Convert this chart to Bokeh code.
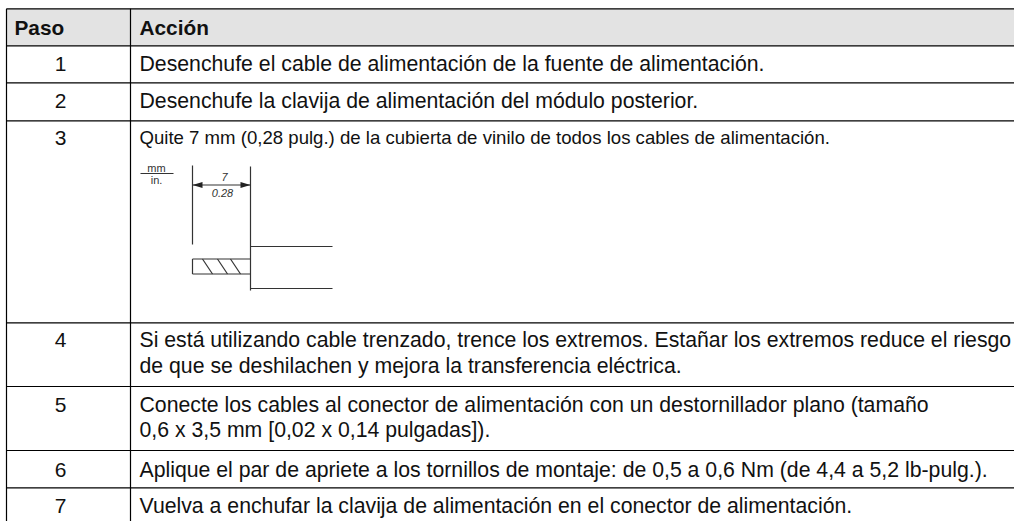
from bokeh.plotting import figure
from bokeh.models import Range1d, ColumnDataSource
from bokeh.core.properties import value
from bokeh.embed import file_html
from bokeh.resources import INLINE

HEADERS = ["Paso", "Acción"]
STEPS = ["1", "2", "3", "4", "5", "6", "7"]
ACTIONS = [
    ["Desenchufe el cable de alimentación de la fuente de alimentación."],
    ["Desenchufe la clavija de alimentación del módulo posterior."],
    ["Quite 7 mm (0,28 pulg.) de la cubierta de vinilo de todos los cables de alimentación."],
    ["Si está utilizando cable trenzado, trence los extremos. Estañar los extremos reduce el riesgo",
     "de que se deshilachen y mejora la transferencia eléctrica."],
    ["Conecte los cables al conector de alimentación con un destornillador plano (tamaño",
     "0,6 x 3,5 mm [0,02 x 0,14 pulgadas])."],
    ["Aplique el par de apriete a los tornillos de montaje: de 0,5 a 0,6 Nm (de 4,4 a 5,2 lb-pulg.)."],
    ["Vuelva a enchufar la clavija de alimentación en el conector de alimentación."],
]
ROW_LINES = [8.3, 45.3, 82.3, 120.3, 322.3, 386, 450, 487.3]
ROW_BOTTOM = 521
TEXT_CENTRES = [63, 100, 137, 339.5, 404.5, 469, 505.5]
LINE_STEPS = [0, 0, 0, 26, 25.3, 0, 0]
X_LEFT, X_SPLIT, X_RIGHT = 6, 130, 1014
FONT = value("Liberation Sans")
TEXT = "#111111"

# Drawing of step 3: stripped cable with its dimension
DIM_LABELS = ["7", "0.28"]
UNIT_LABELS = ["mm", "in."]
DRAWING_LINES = [
    ([192, 192], [165, 244]),            # left extension line
    ([250, 250], [166, 290]),            # right extension line and sleeve end
    ([192, 250], [184.5, 184.5]),        # dimension line
    ([140, 173], [173, 173]),            # unit rule
    ([250, 332], [246, 246]),            # sleeve top
    ([250, 332], [288, 288]),            # sleeve bottom
    ([192, 250], [258.5, 258.5]),        # conductor top
    ([192, 250], [273.5, 273.5]),        # conductor bottom
    ([192, 192], [258.5, 273.5]),        # conductor end
    ([202, 212], [258.5, 273.5]),        # hatch
    ([217, 227], [258.5, 273.5]),
    ([230, 240], [258.5, 273.5]),
]
ARROW_X = [[192, 202, 202], [250, 240, 240]]
ARROW_Y = [[184.5, 181.5, 187.5], [184.5, 181.5, 187.5]]

p = figure(width=1014, height=521, output_backend="svg", toolbar_location=None,
           x_range=Range1d(0, 1014), y_range=Range1d(521, 0),
           min_border=0, outline_line_color=None)
p.xaxis.visible = False
p.yaxis.visible = False
p.grid.visible = False

p.quad(left=[X_LEFT], right=[X_RIGHT], top=[ROW_LINES[0]], bottom=[ROW_LINES[1]],
       fill_color="#e3e3e3", line_color=None)
p.multi_line([[X_LEFT, X_RIGHT]] * len(ROW_LINES), [[y, y] for y in ROW_LINES],
             line_color="#000000", line_width=1.2)
p.multi_line([[X_LEFT, X_LEFT], [X_SPLIT, X_SPLIT]],
             [[ROW_LINES[0], ROW_BOTTOM]] * 2, line_color="#000000", line_width=1.2)

# header
p.text([14, 139], [26.5, 26.5], text=HEADERS, text_font=FONT, text_font_size="20.8px",
       text_font_style="bold", text_baseline="middle", text_color="#111111")

# step numbers
p.text([60] * 7, TEXT_CENTRES, text=STEPS, text_font=FONT, text_font_size="21px",
       text_align="center", text_baseline="middle", text_color=TEXT)

# actions
xs, ys, ts, sz = [], [], [], []
for i, lines in enumerate(ACTIONS):
    for j, line in enumerate(lines):
        xs.append(139)
        ys.append(TEXT_CENTRES[i] + j * LINE_STEPS[i])
        ts.append(line)
        sz.append("18.6px" if i == 2 else "21.25px")
src = ColumnDataSource(dict(x=xs, y=ys, t=ts, s=sz))
p.text("x", "y", text="t", source=src, text_font=FONT, text_font_size="s",
       text_baseline="middle", text_color=TEXT)

# drawing
p.multi_line([l[0] for l in DRAWING_LINES], [l[1] for l in DRAWING_LINES],
             line_color="#333333", line_width=1.2)
p.patches(ARROW_X, ARROW_Y, fill_color="#222222", line_color=None)
p.text([224, 222], [176.5, 192.5], text=DIM_LABELS, text_font=FONT, text_font_size="11px",
       text_font_style="italic", text_align="center", text_baseline="middle", text_color="#333333")
p.text([156, 156], [167, 179.5], text=UNIT_LABELS, text_font=FONT, text_font_size="11px",
       text_align="center", text_baseline="middle", text_color="#333333")

open("out.html", "w").write(file_html(p, INLINE))
